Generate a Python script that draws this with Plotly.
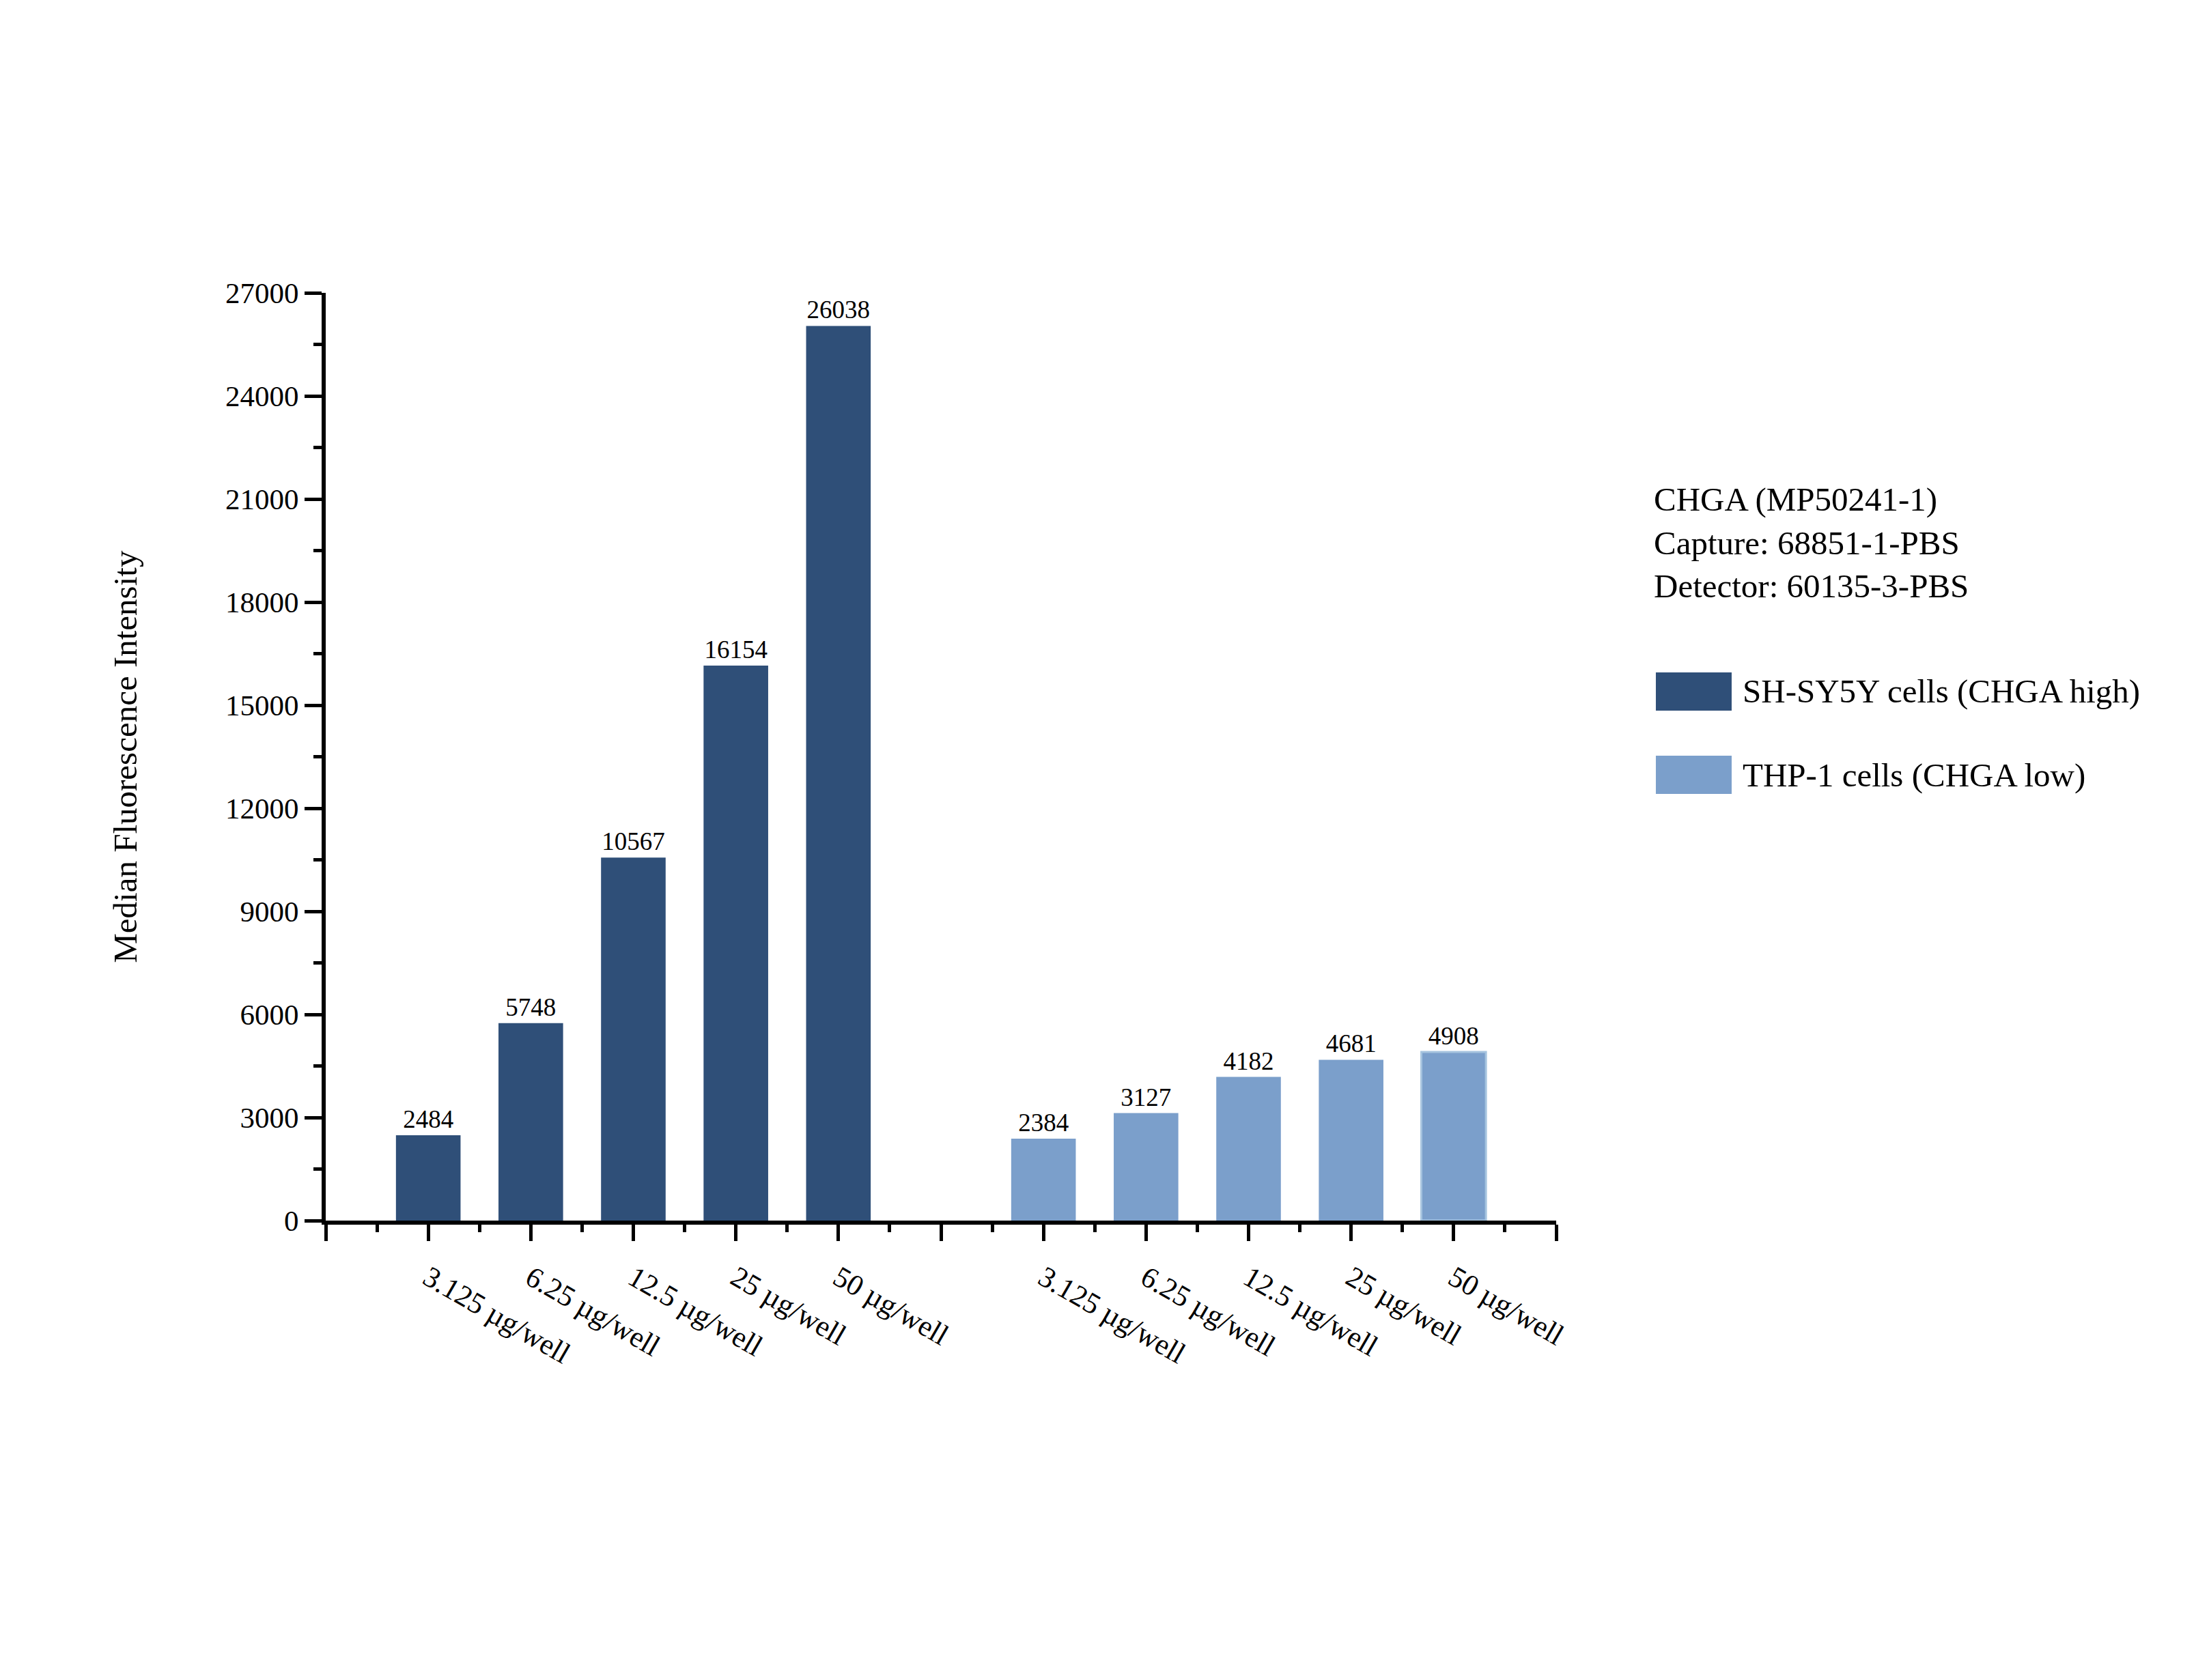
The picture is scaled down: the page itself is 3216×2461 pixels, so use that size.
import plotly.graph_objects as go

doses = ["3.125 µg/well", "6.25 µg/well", "12.5 µg/well", "25 µg/well", "50 µg/well"]
series_names = ["SH-SY5Y cells (CHGA high)", "THP-1 cells (CHGA low)"]
shsy5y_values = [2484, 5748, 10567, 16154, 26038]
thp1_values = [2384, 3127, 4182, 4681, 4908]
y_ticks = [0, 3000, 6000, 9000, 12000, 15000, 18000, 21000, 24000, 27000]
info_lines = ["CHGA (MP50241-1)", "Capture: 68851-1-PBS", "Detector: 60135-3-PBS"]
y_title = "Median Fluorescence Intensity"

dark = "#2F4F78"
light = "#7B9FCB"
FONT = "Liberation Serif, Times New Roman, serif"

n = len(doses)
x_a = [i + 1 for i in range(n)]
x_b = [i + n + 2 for i in range(n)]
x_max = 2 * n + 2

fig = go.Figure()
fig.add_trace(go.Bar(
    x=x_a, y=shsy5y_values, name=series_names[0], width=0.63,
    marker=dict(color=dark, line=dict(width=0)),
    text=[str(v) for v in shsy5y_values], textposition="outside",
    textfont=dict(family=FONT, size=37, color="black"), cliponaxis=False,
))
light_line = ["rgba(0,0,0,0)"] * (n - 1) + ["#A6C4DF"]
fig.add_trace(go.Bar(
    x=x_b, y=thp1_values, name=series_names[1], width=0.63,
    marker=dict(color=light, line=dict(width=3, color=light_line)),
    text=[str(v) for v in thp1_values], textposition="outside",
    textfont=dict(family=FONT, size=37, color="black"), cliponaxis=False,
))

tickvals = list(range(0, x_max + 1))
ticktext = [""] + doses + [""] + doses + [""]

fig.update_layout(
    width=3216, height=2461, autosize=False,
    margin=dict(l=477, r=937, t=429, b=673),
    paper_bgcolor="white", plot_bgcolor="white",
    showlegend=False,
    font=dict(family=FONT, color="black"),
    xaxis=dict(
        range=[0, x_max], tickmode="array", tickvals=tickvals, ticktext=ticktext,
        tickangle=30, showgrid=False, zeroline=False,
        showline=True, linecolor="black", linewidth=6,
        ticks="outside", ticklen=24, tickwidth=5, tickcolor="black",
        ticklabelstandoff=12,
        tickfont=dict(family=FONT, size=43, color="black"),
        minor=dict(tick0=0.5, dtick=1, ticks="outside", ticklen=11, tickwidth=5, tickcolor="black"),
    ),
    yaxis=dict(
        range=[0, 27000], tickmode="array", tickvals=y_ticks,
        ticktext=[str(v) for v in y_ticks],
        showgrid=False, zeroline=False,
        showline=True, linecolor="black", linewidth=6,
        ticks="outside", ticklen=25, tickwidth=5, tickcolor="black",
        tickfont=dict(family=FONT, size=43, color="black"),
        minor=dict(tick0=1500, dtick=3000, ticks="outside", ticklen=12, tickwidth=5, tickcolor="black"),
    ),
    bargap=0.37,
)

# y-axis title
fig.add_annotation(
    xref="paper", yref="paper", x=-0.163, y=0.5, text=y_title, textangle=-90,
    showarrow=False, xanchor="center", yanchor="middle",
    font=dict(family=FONT, size=49, color="black"),
)

# info text block
fig.add_annotation(
    xref="paper", yref="paper", x=1.0783, y=0.7307, text="<br>".join(info_lines),
    showarrow=False, xanchor="left", yanchor="middle", align="left",
    font=dict(family=FONT, size=49, color="black"),
)

# legend swatches
legend_items = [(series_names[0], dark, 0.5497, 0.5909), (series_names[1], light, 0.4599, 0.5011)]
for name, col, y0, y1 in legend_items:
    fig.add_shape(type="rect", xref="paper", yref="paper", x0=1.081, x1=1.1426, y0=y0, y1=y1,
                  fillcolor=col, line=dict(width=0))
    fig.add_annotation(
        xref="paper", yref="paper", x=1.1504, y=(y0 + y1) / 2, text=name,
        showarrow=False, xanchor="left", yanchor="middle",
        font=dict(family=FONT, size=49, color="black"),
    )

fig.write_html(
    "out.html",
    config={"displayModeBar": False},
    post_script="document.body.style.margin='0';document.body.style.overflow='hidden';",
)
